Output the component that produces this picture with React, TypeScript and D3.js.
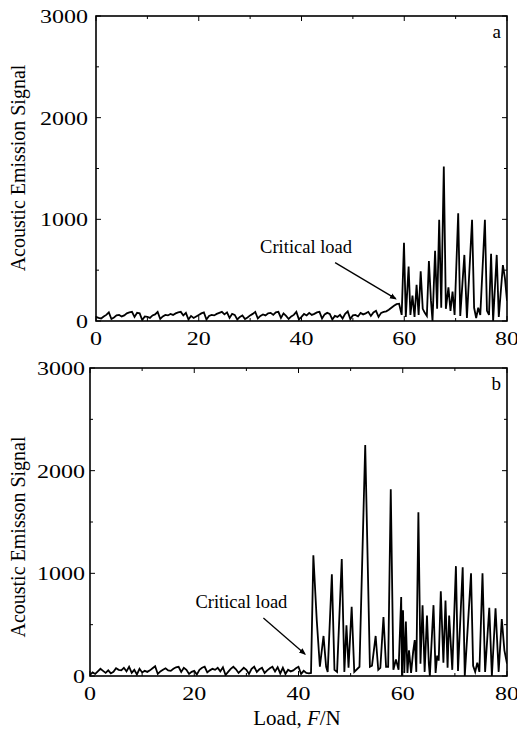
import React from 'react';
import * as d3 from 'd3';

// [load F/N, acoustic emission signal]
const panelAData: [number, number][] = [
  [0, 40], [0.5, 30], [1, 25], [1.5, 45], [2, 60], [2.5, 85], [3, 20], [3.5, 35], [4, 55], [4.5, 60],
  [5, 45], [5.5, 55], [6, 75], [6.5, 85], [7, 90], [7.5, 40], [8, 80], [8.5, 75], [9, 10], [9.5, 45],
  [10, 40], [10.5, 30], [11, 55], [11.5, 65], [12, 90], [12.5, 20], [13, 45], [13.5, 60], [14, 55], [14.5, 70],
  [15, 60], [15.5, 75], [16, 85], [16.5, 90], [17, 55], [17.5, 80], [18, 15], [18.5, 50], [19, 30], [19.5, 45],
  [20, 60], [20.5, 75], [21, 85], [21.5, 15], [22, 50], [22.5, 60], [23, 55], [23.5, 70], [24, 80], [24.5, 90],
  [25, 65], [25.5, 85], [26, 30], [26.5, 70], [27, 60], [27.5, 15], [28, 40], [28.5, 55], [29, 20], [29.5, 35],
  [30, 55], [30.5, 70], [31, 90], [31.5, 25], [32, 50], [32.5, 65], [33, 55], [33.5, 75], [34, 80], [34.5, 60],
  [35, 85], [35.5, 90], [36, 30], [36.5, 75], [37, 50], [37.5, 20], [38, 45], [38.5, 60], [39, 90], [39.5, 15],
  [40, 40], [40.5, 70], [41, 55], [41.5, 80], [42, 60], [42.5, 70], [43, 85], [43.5, 90], [44, 25], [44.5, 65],
  [45, 80], [45.5, 70], [46, 15], [46.5, 50], [47, 40], [47.5, 60], [48, 25], [48.5, 70], [49, 95], [49.5, 20],
  [50, 55], [50.5, 60], [51, 45], [51.5, 80], [52, 65], [52.5, 75], [53, 90], [53.5, 50], [54, 85], [54.5, 100],
  [55, 40], [55.5, 80], [56, 90], [56.5, 95], [57, 110], [57.5, 130], [58, 150], [58.5, 165], [59, 170], [59.5, 60],
  [59.95, 770], [60.3, 40], [60.85, 535], [61.2, 60], [61.6, 250], [62, 40], [62.4, 355], [62.8, 60], [63.2, 490], [63.6, 120],
  [64, 80], [64.4, 50], [64.8, 590], [65.2, 200], [65.5, 0], [66, 690], [66.4, 120], [66.8, 995], [67.2, 130], [67.7, 1520],
  [68.1, 120], [68.6, 330], [69, 100], [69.4, 290], [69.8, 60], [70.5, 1060], [70.9, 50], [71.7, 650], [72.2, 30], [73.2, 995],
  [73.6, 130], [74, 30], [74.4, 130], [74.8, 60], [75.7, 995], [76.1, 100], [76.5, 60], [76.9, 660], [77.3, 0], [78, 650],
  [78.4, 40], [79.2, 550], [79.6, 420], [80, 200],
];

const panelBData: [number, number][] = [
  [0, 10], [0.5, 35], [1, 20], [1.5, 45], [2, 70], [2.5, 50], [3, 30], [3.5, 55], [4, 25], [4.5, 40],
  [5, 75], [5.5, 60], [6, 55], [6.5, 80], [7, 45], [7.5, 90], [8, 30], [8.5, 60], [9, 15], [9.5, 70],
  [10, 35], [10.5, 50], [11, 40], [11.5, 55], [12, 75], [12.5, 95], [13, 20], [13.5, 45], [14, 60], [14.5, 75],
  [15, 55], [15.5, 50], [16, 70], [16.5, 85], [17, 90], [17.5, 40], [18, 80], [18.5, 60], [19, 20], [19.5, 40],
  [20, 50], [20.5, 15], [21, 60], [21.5, 80], [22, 90], [22.5, 35], [23, 55], [23.5, 70], [24, 60], [24.5, 80],
  [25, 45], [25.5, 85], [26, 10], [26.5, 40], [27, 70], [27.5, 90], [28, 65], [28.5, 30], [29, 55], [29.5, 80],
  [30, 60], [30.5, 20], [31, 70], [31.5, 90], [32, 40], [32.5, 65], [33, 80], [33.5, 30], [34, 55], [34.5, 75],
  [35, 90], [35.5, 45], [36, 85], [36.5, 25], [37, 80], [37.5, 20], [38, 60], [38.5, 45], [39, 55], [39.5, 75],
  [40, 90], [40.5, 20], [41, 50], [41.5, 30], [42, 25], [42.4, 30],
  [42.85, 1175], [43.5, 545], [44.1, 90], [44.8, 390], [45.3, 90], [45.6, 40], [46.4, 990], [46.9, 60], [47.4, 40], [48.3, 1140],
  [48.8, 40], [49.2, 495], [49.6, 80], [50.2, 675], [50.7, 40], [51.7, 90], [52.8, 2250], [53.7, 90], [54.1, 100], [54.8, 390],
  [55.3, 60], [55.7, 80], [56.3, 575], [56.8, 90], [57.2, 90], [57.7, 1820], [58.2, 60], [58.7, 160], [59.2, 60], [59.7, 770],
  [59.85, 0], [60.05, 640], [60.3, 30], [60.6, 530], [60.9, 30], [61.2, 250], [61.6, 30], [62, 240], [62.3, 350], [62.6, 40],
  [63, 1595], [63.4, 120], [63.8, 690], [64.2, 40], [64.65, 590], [65, 120], [65.2, 0], [65.9, 690], [66.3, 30], [66.6, 200],
  [66.9, 150], [67.3, 825], [67.8, 130], [68.2, 735], [68.6, 80], [68.9, 590], [69.5, 60], [70.2, 1070], [70.6, 50], [71.5, 1060],
  [71.9, 0], [73.1, 1000], [73.5, 100], [73.9, 40], [74.3, 130], [74.7, 40], [75.3, 1000], [75.8, 40], [76.6, 665], [77.1, 0],
  [77.8, 660], [78.4, 40], [79, 555], [79.5, 250], [80, 120],
];

const xTickValues = [0, 20, 40, 60, 80];
const yTickValues = [0, 1000, 2000, 3000];

const font = '"Liberation Serif", "Times New Roman", serif';

type Panel = {
  data: [number, number][];
  left: number; right: number; top: number; bottom: number;
  letter: string;
  yLabel: string; yLabelY: number;
  labelGap: number;
  crit: [number, number]; // arrow tip (load, signal)
  critText: [number, number]; // text offset from the tip (px)
  critTail: [number, number];
};

const panels: Panel[] = [
  {
    data: panelAData, left: 96, right: 507, top: 16, bottom: 321, letter: 'a',
    yLabel: 'Acoustic Emission Signal', yLabelY: 168, labelGap: 8,
    crit: [59, 200], critText: [-139, -48], critTail: [-64, -38],
  },
  {
    data: panelBData, left: 90, right: 507, top: 368, bottom: 676, letter: 'b',
    yLabel: 'Acoustic Emisson Signal', yLabelY: 537, labelGap: 5,
    crit: [41.9, 195], critText: [-113, -48], critTail: [-45, -38],
  },
];

const PanelChart = ({ p, idx }: { p: Panel; idx: number }) => {
  const x = d3.scaleLinear().domain([0, 80]).range([p.left, p.right]);
  const y = d3.scaleLinear().domain([0, 3000]).range([p.bottom, p.top]);
  const line = d3.line<[number, number]>().x(d => x(d[0])).y(d => y(d[1]));

  const xMinor = d3.range(0, 81, 10);
  const yMinor = d3.range(0, 3001, 500);
  const tipX = x(p.crit[0]), tipY = y(p.crit[1]);

  return (
    <g>
      <defs>
        <clipPath id={`clip${idx}`}>
          <rect x={p.left} y={p.top} width={p.right - p.left} height={p.bottom - p.top} />
        </clipPath>
      </defs>
      <path d={line(p.data) ?? ''} fill="none" stroke="#000" strokeWidth={1.8}
        strokeLinejoin="miter" clipPath={`url(#clip${idx})`} />
      {/* ticks, inward on all four sides */}
      {xMinor.map(v => {
        const len = v % 20 === 0 ? 5 : 3;
        return (
          <g key={'xt' + v} stroke="#000" strokeWidth={1}>
            <line x1={x(v)} x2={x(v)} y1={p.bottom} y2={p.bottom - len} />
            <line x1={x(v)} x2={x(v)} y1={p.top} y2={p.top + len} />
          </g>
        );
      })}
      {yMinor.map(v => {
        const len = v % 1000 === 0 ? 5 : 3;
        return (
          <g key={'yt' + v} stroke="#000" strokeWidth={1}>
            <line x1={p.left} x2={p.left + len} y1={y(v)} y2={y(v)} />
            <line x1={p.right} x2={p.right - len} y1={y(v)} y2={y(v)} />
          </g>
        );
      })}
      <rect x={p.left} y={p.top} width={p.right - p.left} height={p.bottom - p.top}
        fill="none" stroke="#000" strokeWidth={1.6} />
      {xTickValues.map(v => (
        <text key={'xl' + v} x={x(v)} y={p.bottom + 24} textAnchor="middle" fontSize={18.5}
          textLength={12 * String(v).length} lengthAdjust="spacingAndGlyphs">{v}</text>
      ))}
      {yTickValues.map(v => (
        <text key={'yl' + v} x={p.left - p.labelGap} y={y(v) + 7} textAnchor="end" fontSize={18.5}
          textLength={12 * String(v).length} lengthAdjust="spacingAndGlyphs">{v}</text>
      ))}
      <text transform={`translate(25,${p.yLabelY}) rotate(-90)`} textAnchor="middle" fontSize={20}>
        {p.yLabel}
      </text>
      <text x={p.right - 6} y={p.top + 22} textAnchor="end" fontSize={19}>{p.letter}</text>
      <text x={tipX + p.critText[0]} y={tipY + p.critText[1]} fontSize={18.5}>Critical load</text>
      <line x1={tipX + p.critTail[0]} y1={tipY + p.critTail[1]} x2={tipX - 3.5} y2={tipY - 2}
        stroke="#000" strokeWidth={1.3} markerEnd="url(#arrowHead)" />
    </g>
  );
};

export default function App() {
  return (
    <svg width={517} height={731} style={{ position: 'absolute', left: 0, top: 0, background: '#fff' }}
      fontFamily={font}>
      <defs>
        <marker id="arrowHead" viewBox="0 0 10 10" refX={8} refY={5} markerWidth={7} markerHeight={7}
          markerUnits="userSpaceOnUse" orient="auto">
          <path d="M0,1 L10,5 L0,9 Z" fill="#000" />
        </marker>
      </defs>
      <rect x={0} y={0} width={517} height={731} fill="#fff" />
      {panels.map((p, i) => <PanelChart key={i} p={p} idx={i} />)}
      <text x={297} y={725} textAnchor="middle" fontSize={21}>
        Load, <tspan fontStyle="italic">F</tspan>/N
      </text>
    </svg>
  );
}
